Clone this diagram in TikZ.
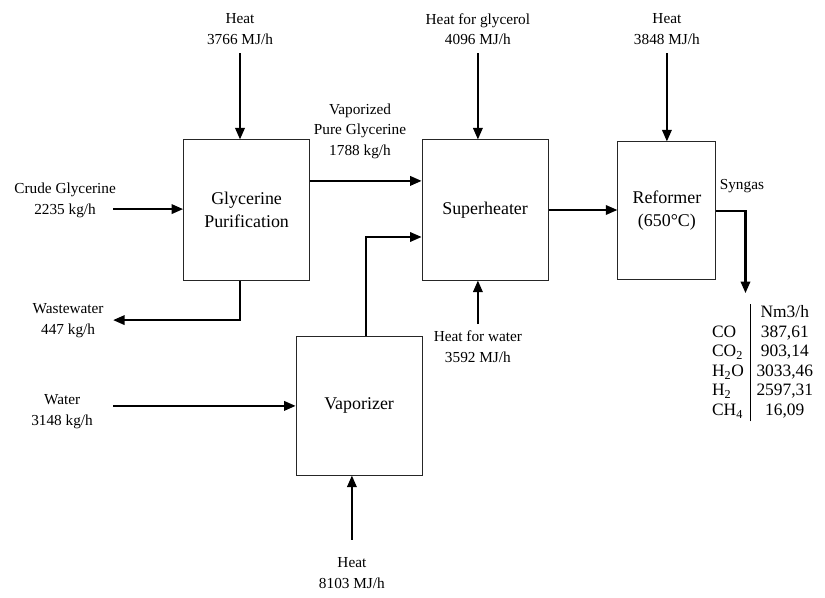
\documentclass[tikz,border=0pt]{standalone}
\usepackage{fontspec}
\setmainfont{Liberation Serif}
\usetikzlibrary{positioning, arrows.meta}
\tikzstyle{block} = [draw=black!85, rectangle, line width=0.9pt,
    align=center, font=\fontsize{17}{21.5}\selectfont,
    minimum width=4.2cm, minimum height=4.67cm]
\tikzstyle{lbl} = [align=center, inner sep=3pt,
    font=\fontsize{14.5}{19.5}\selectfont]
\tikzstyle{flow} = [-{Triangle[length=11pt,width=9pt]}, line width=2pt]

\begin{document}
\begin{tikzpicture}
        \useasboundingbox (0,0) rectangle (27.5,-19.93);

        \node[block](purif) at (8.22,-7.0){Glycerine\\Purification};
        \node[block](super) at (16.17,-7.0){Superheater};
        \node[
            block,
            minimum width=3.27cm,
            minimum height=4.6cm
        ](reform) at (22.23,-7.03){Reformer\\(650°C)};
        \node[
            block,
            minimum height=4.63cm
        ](vapor) at (11.97,-13.52){Vaporizer};

        \node[lbl](heatA) at (8.0,-0.97){Heat\\3766 MJ/h};
        \node[lbl](heatB) at (15.93,-0.97){Heat for glycerol\\4096 MJ/h};
        \node[lbl](heatC) at (22.23,-0.97){Heat\\3848 MJ/h};
        \node[lbl](crude) at (2.17,-6.67){Crude Glycerine\\2235 kg/h};
        \node[lbl](waste) at (2.27,-10.68){Wastewater\\447 kg/h};
        \node[lbl](vapgly) at (12.0,-4.37){Vaporized\\Pure Glycerine\\1788 kg/h};
        \node[lbl](syngas) at (24.73,-6.2){Syngas};
        \node[lbl](heatW) at (15.93,-11.55){Heat for water\\3592 MJ/h};
        \node[lbl](water) at (2.07,-13.72){Water\\3148 kg/h};
        \node[lbl](heatV) at (11.73,-19.1){Heat\\8103 MJ/h};

        \node[
            anchor=north west,
            inner sep=0pt,
            font=\fontsize{16.5}{18.6}\selectfont
        ](gas) at (23.52,-10.12){%
            \begin{tabular}{l|c}
                & Nm3/h\\
                CO & 387,61\\
                CO\textsubscript{2} & 903,14\\
                H\textsubscript{2}O & 3033,46\\
                H\textsubscript{2} & 2597,31\\
                CH\textsubscript{4} & 16,09
            \end{tabular}};

        \coordinate (crudeIn) at (3.77,-6.97);
        \coordinate (wasteOut) at (3.77,-10.67);
        \coordinate (waterIn) at (3.77,-13.53);
        \coordinate (synOut) at (24.85,-9.77);

        \draw[flow, shorten <=5pt] (heatA) -- (heatA |- purif.north);
        \draw[flow, shorten <=5pt] (heatB) -- (heatB |- super.north);
        \draw[flow, shorten <=5pt] (heatC) -- (heatC |- reform.north);
        \draw[flow] (crudeIn) -- (crudeIn -| purif.west);
        \draw[flow] (purif.south -| heatA) |- (wasteOut);
        \draw[flow] ([yshift=0.97cm]purif.east) -- ([yshift=0.97cm]purif.east -| super.west);
        \draw[flow] ([xshift=0.23cm]vapor.north) |- ([yshift=-0.9cm]super.west);
        \draw[flow] (super.east) -- (super.east -| reform.west);
        \draw[flow] (reform.east) -| (synOut);
        \draw[flow, shorten <=3pt] (heatW) -- (heatW |- super.south);
        \draw[flow] (waterIn) -- (waterIn -| vapor.west);
        \draw[flow, shorten <=14pt] (heatV) -- (heatV |- vapor.south);
    \end{tikzpicture}
\end{document}
